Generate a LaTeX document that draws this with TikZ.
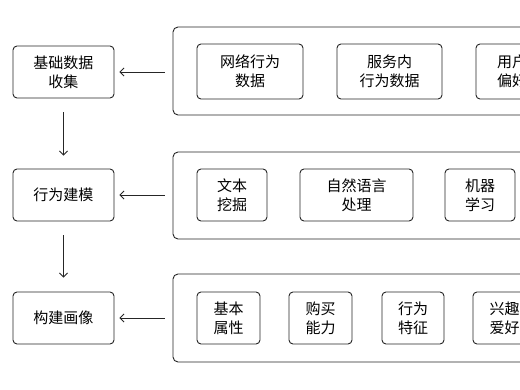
\documentclass[tikz,border=0pt]{standalone}
\usepackage{fontspec}
\setmainfont{Noto Sans CJK SC}
\usetikzlibrary{arrows.meta}
\begin{document}
\begin{tikzpicture}[x=1pt,y=-1pt,
  box/.style={draw=black!85,line width=0.9pt,rounded corners=4pt,inner sep=0pt,
    align=center,font=\fontsize{15}{19}\selectfont},
  outer/.style={draw=black!85,line width=0.9pt,rounded corners=5pt,inner sep=0pt},
  arr/.style={draw=black!85,line width=0.8pt,-{Straight Barb[length=4pt,width=8pt]}}]
\clip (0,0) rectangle (520,390);
\fill[white] (0,0) rectangle (520,390);
% left column
\node[box,minimum width=101pt,minimum height=52pt] (l1) at (63.5,72) {基础数据\\收集};
\node[box,minimum width=101pt,minimum height=52pt] (l2) at (63.5,195) {行为建模};
\node[box,minimum width=101pt,minimum height=52pt] (l3) at (63.5,318) {构建画像};
% outer containers
\node[outer,minimum width=360pt,minimum height=88pt] (o1) at (353,71) {};
\node[outer,minimum width=360pt,minimum height=87pt] (o2) at (353,195.5) {};
\node[outer,minimum width=360pt,minimum height=88pt] (o3) at (353,318) {};
% row 1
\node[box,minimum width=106pt,minimum height=55pt] (a1) at (250,71.5) {网络行为\\数据};
\node[box,minimum width=105pt,minimum height=55pt] (a2) at (389.5,71.5) {服务内\\行为数据};
\node[box,minimum width=72pt,minimum height=55pt] (a3) at (512,71.5) {用户\\偏好};
% row 2
\node[box,minimum width=70pt,minimum height=52pt] (b1) at (232,195) {文本\\挖掘};
\node[box,minimum width=113pt,minimum height=52pt] (b2) at (356.5,195) {自然语言\\处理};
\node[box,minimum width=70pt,minimum height=52pt] (b3) at (480,195) {机器\\学习};
% row 3
\node[box,minimum width=63pt,minimum height=52pt] (c1) at (228.5,318) {基本\\属性};
\node[box,minimum width=63pt,minimum height=52pt] (c2) at (320.5,318) {购买\\能力};
\node[box,minimum width=62pt,minimum height=52pt] (c3) at (413,318) {行为\\特征};
\node[box,minimum width=63pt,minimum height=52pt] (c4) at (504.5,318) {兴趣\\爱好};
% arrows
\draw[arr,shorten <=8pt,shorten >=5pt] (o1.west |- l1.east) -- (l1.east);
\draw[arr,shorten <=8pt,shorten >=5pt] (o2.west |- l2.east) -- (l2.east);
\draw[arr,shorten <=8pt,shorten >=5pt] (o3.west |- l3.east) -- (l3.east);
\draw[arr,shorten <=14pt,shorten >=13pt] (l1.south) -- (l2.north);
\draw[arr,shorten <=14pt,shorten >=14pt] (l2.south) -- (l3.north);
\end{tikzpicture}
\end{document}
